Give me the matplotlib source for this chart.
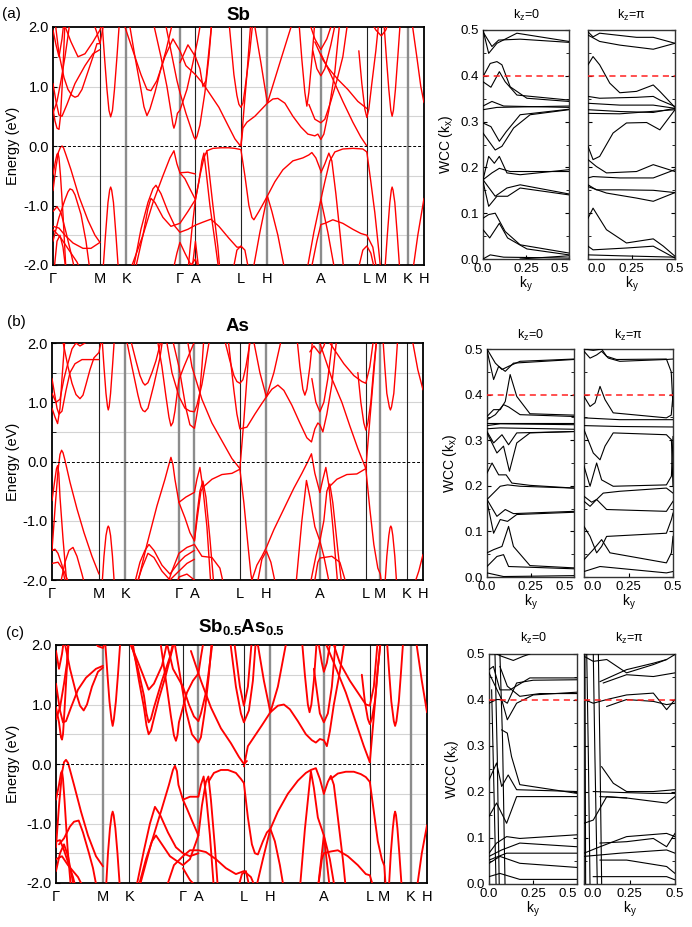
import matplotlib
matplotlib.use("Agg")
import matplotlib.pyplot as plt

plt.rcParams['font.family'] = ['Liberation Sans', 'DejaVu Sans']
plt.rcParams['mathtext.fontset'] = 'custom'
plt.rcParams['mathtext.rm'] = 'Liberation Sans'
plt.rcParams['mathtext.it'] = 'Liberation Sans:italic'
plt.rcParams['mathtext.bf'] = 'Liberation Sans:bold'

W, H = 692, 927

# high-symmetry path (k distance, arbitrary units)
KPTS = [0, 47, 73.5, 127, 142.5, 188, 214.5, 268, 314, 328.5, 355, 371.2]
KLABELS = ["Γ", "M", "K", "Γ", "A", "L", "H", "A", "L", "M", "K", "H"]
# colour of the inner vertical lines: k = black, g = grey
VLINES_SB = "kggkkggkkg"
VLINES_AS = "kgggkggkgk"
VLINES_SBAS = "gkkgkggkkg"

# ---- band structures: each band is a list of (k, E[eV]) ----
sb_bands = [
    [(0, 0.62), (2, 0.42), (4, 0.3), (6, 0.28), (7.5, 0.5), (9, 0.95), (10.5, 1.5), (12, 2.1)],
    [(0, 1.05), (3, 0.75), (6, 0.52), (9, 0.5), (14, 0.7), (22, 1.05), (32, 1.35), (40, 1.55), (47, 1.62)],
    [(0, 0.55), (4, 0.75), (8, 1.1), (12, 1.5), (15, 1.85), (17, 2.1)],
    [(2, 2.1), (6, 1.55), (11, 1.15), (15, 0.95), (19, 0.85), (22, 0.82), (25, 0.84), (29, 0.95), (34, 1.2),
     (40, 1.5), (44, 1.72), (47, 1.72)],
    [(10, 2.1), (18, 1.75), (25, 1.5), (32, 1.55), (40, 1.75), (47, 1.95), (50, 2.1)],
    [(0, 1.95), (3, 1.7), (6, 1.5), (9, 1.8), (11, 2.1)],
    [(0, -0.48), (2.5, -0.25), (4, -0.14), (5, -0.12), (6, -0.2), (7.5, -0.5), (10, -1.15), (13, -2.1)],
    [(0, -0.75), (3, -0.35), (5.5, -0.1), (7.5, -0.02), (9, 0.0), (10.5, -0.03), (13, -0.15), (18, -0.4),
     (26, -0.85), (35, -1.25), (42, -1.5), (47, -1.62)],
    [(0, -1.1), (4, -1.02), (8, -1.12), (13, -1.45), (18, -1.8), (22, -2.1)],
    [(0, -1.35), (6, -1.38), (12, -1.5), (20, -1.63), (30, -1.72), (38, -1.72), (47, -1.62)],
    [(0, -1.6), (6, -1.2), (12, -0.9), (15, -0.77), (17, -0.72), (19.5, -0.74), (22, -0.82), (28, -1.15),
     (33, -1.6), (37, -2.1)],
    [(0, -1.4), (8, -1.55), (16, -1.75), (24, -1.95), (28, -2.1)],
    [(1, -2.1), (4, -1.6), (7, -1.5), (10, -1.7), (13, -2.1)],
    [(49, 2.1), (51.5, 1.5), (54, 0.95), (56, 0.6), (57.7, 0.49), (59.5, 0.6), (61.5, 0.95), (64, 1.5), (66.5, 2.1)],
    [(50, -2.1), (52.5, -1.5), (55, -0.95), (56.7, -0.74), (57.7, -0.69), (58.7, -0.74), (60.5, -0.95),
     (63, -1.5), (65.5, -2.1)],
    [(40, 2.1), (44, 1.9), (47, 1.72), (49, 1.9), (51, 2.1)],
    [(76, 2.1), (82, 1.5), (88, 0.95), (91, 0.66), (94, 0.51), (97, 0.62), (102, 0.9), (108, 1.3), (113, 1.6), (120, 2.1)],
    [(70, 2.1), (80, 1.6), (88, 1.2), (94, 0.95), (98, 0.93), (104, 1.1), (112, 1.5), (120, 1.8), (127, 1.6),
     (133, 1.35), (142.5, 1.2)],
    [(100, 2.1), (108, 1.5), (114, 1.0), (118, 0.58), (120, 0.36), (121, 0.3), (122.5, 0.38), (124.5, 0.55),
     (127, 0.6), (134, 0.95), (140, 1.4), (145, 1.8), (148, 2.1)],
    [(112, 2.1), (118, 1.6), (124, 1.1), (127, 0.9), (133, 0.55), (138, 0.3), (141, 0.15), (142.5, 0.11),
     (144, 0.16), (147, 0.35), (152, 0.9), (156, 1.5), (159, 2.1)],
    [(127, 1.4), (135, 1.7), (142.5, 1.5), (147, 1.3), (150, 1.0), (153, 1.1), (156, 1.6), (159, 2.1)],
    [(142.5, 1.2), (150, 1.05), (158, 0.85), (166, 0.65), (175, 0.35), (182, 0.12), (188, -0.01)],
    [(176, 2.1), (181, 1.2), (184, 0.85), (186, 0.7), (188, 0.65), (190, 0.72), (192, 0.95), (197, 1.6), (200, 2.1)],
    [(188, -0.01), (190, 0.3), (194, 0.4), (202, 0.5), (214.5, 0.72), (220, 0.79), (225, 0.8), (232, 0.72),
     (240, 0.5), (248, 0.32), (255, 0.2), (262, 0.17), (265, 0.2), (268, 0.11), (271, 0.2), (276, 0.6),
     (282, 1.25), (287, 2.1)],
    [(201, 2.1), (208, 1.4), (214.5, 0.72), (227, 1.4), (240, 2.1)],
    [(188, -0.01), (191, 0.6), (194, 1.2), (198, 2.1)],
    [(246, 2.1), (249, 1.45), (252, 0.9), (254, 0.67), (256, 0.9), (259, 1.45), (262, 2.1)],
    [(256, 2.1), (262, 1.8), (268, 1.62), (274, 1.8), (280, 2.1)],
    [(260, 1.6), (264, 1.3), (268, 1.18), (272, 1.3), (278, 1.7), (283, 2.1)],
    [(256, 0.7), (262, 0.45), (268, 0.39), (272, 0.45), (278, 0.75), (284, 1.1), (290, 1.5), (295, 2.1)],
    [(262, 1.75), (270, 1.45), (276, 1.3), (285, 1.12), (295, 0.95), (305, 0.75), (314, 0.63)],
    [(268, 1.55), (278, 1.2), (290, 0.75), (300, 0.4), (308, 0.15), (314, 0.0)],
    [(306, 1.6), (309, 1.05), (312, 0.62), (314, 0.48), (316, 0.62), (319, 1.05), (323, 1.6), (326, 2.1)],
    [(318, 2.1), (323, 1.95), (328.5, 1.85), (333, 1.95), (336, 2.1)],
    [(331, 2.1), (333.5, 1.5), (336, 0.95), (338, 0.6), (339.3, 0.5), (340.6, 0.6), (342.6, 0.95), (345, 1.5), (347.5, 2.1)],
    [(359, 2.1), (364, 1.5), (368, 1.0), (371.2, 0.73)],
    [(188, -0.06), (192, -0.5), (196, -1.0), (199, -1.2), (201, -1.24), (206, -1.1), (211, -0.95), (214.5, -0.84),
     (219, -1.1), (225, -1.5), (232, -2.1)],
    [(200, -2.1), (207, -1.45), (214.5, -0.84), (222, -0.6), (230, -0.4), (240, -0.25), (250, -0.2), (256, -0.15),
     (259, -0.11), (263, -0.2), (268, -0.42)],
    [(268, -0.45), (272, -0.3), (276, -0.12), (279, -0.25), (283, -0.8), (288, -1.6), (291, -2.1)],
    [(268, -0.9), (272, -0.6), (277, -0.25), (282, -0.1), (290, -0.05), (300, -0.04), (310, -0.05), (314, -0.1)],
    [(314, -0.1), (318, -0.6), (322, -1.12), (325, -1.6), (328, -2.1)],
    [(332, -2.1), (334.5, -1.5), (337, -0.95), (338.5, -0.74), (339.3, -0.69), (340.2, -0.74), (342, -0.95),
     (344.5, -1.5), (347, -2.1)],
    [(360, -2.1), (365, -1.5), (371.2, -0.88)],
    [(254, -2.1), (261, -1.45), (268, -0.9), (275, -1.45), (282, -2.1)],
    [(258, -2.1), (264, -1.6), (268, -1.32), (272, -1.3), (280, -1.24), (290, -1.3), (300, -1.4), (308, -1.47),
     (314, -1.5), (320, -1.7), (324, -2.1)],
    [(305, -2.1), (310, -1.75), (314, -1.68), (318, -1.8), (322, -2.1)],
    [(77, -2.1), (90, -1.5), (100, -0.95), (110, -0.5), (117, -0.2), (121, -0.08), (124, -0.3), (127, -0.45),
     (135, -0.44), (142.5, -0.47)],
    [(127, -0.45), (132, -0.55), (137, -0.72), (142.5, -0.9), (146, -0.6), (149, -0.25), (151, -0.12), (153, -0.4),
     (157, -1.0), (162, -1.6), (166, -2.1)],
    [(135, -2.1), (139, -1.4), (142.5, -0.9), (147, -0.5), (151, -0.2), (154, -0.08), (156, -0.4), (160, -1.0),
     (165, -1.7), (167, -2.1)],
    [(154, -0.08), (160, -0.04), (168, -0.03), (176, -0.03), (182, -0.04), (188, -0.06)],
    [(80, -2.1), (88, -1.4), (95, -0.95), (100, -0.72), (103, -0.66), (108, -0.8), (115, -1.1), (122, -1.35),
     (127, -1.45), (135, -1.4), (142.5, -1.33)],
    [(82, -2.1), (90, -1.5), (95, -1.05), (98, -0.88), (102, -0.95), (110, -1.2), (118, -1.35), (127, -1.3),
     (135, -1.1), (142.5, -0.9)],
    [(142.5, -1.33), (150, -1.28), (158, -1.23), (166, -1.35), (176, -1.55), (184, -1.7), (188, -1.7)],
    [(120, -2.1), (124, -1.8), (127, -1.62), (132, -1.8), (138, -2.0), (142.5, -1.9), (146, -2.1)],
    [(180, -2.1), (184, -1.75), (188, -1.68), (192, -1.75), (196, -2.1)],
    [(139, -2.1), (142.5, -1.6), (146, -2.1)],
]

as_bands = [
    [(0, -0.66), (2.5, -0.35), (4.5, -0.12), (5.6, -0.07), (6.8, -0.2), (8, -0.6), (11, -1.3), (15, -2.1)],
    [(0, -1.5), (3, -0.8), (6, -0.15), (8, 0.12), (9.6, 0.19), (11, 0.15), (13, 0.02), (18, -0.35), (25, -0.8),
     (32, -1.2), (40, -1.6), (47, -1.9)],
    [(0, -1.5), (3, -1.48), (6, -1.55), (10, -1.75), (14, -2.1)],
    [(8, -2.1), (13, -1.7), (17, -1.5), (21, -1.45), (25, -1.6), (30, -1.9), (33, -2.1)],
    [(0, -1.72), (6, -1.7), (12, -1.85), (18, -2.1)],
    [(0, 0.9), (3, 0.75), (5.6, 0.64), (8, 0.9), (10, 1.4), (13, 2.1)],
    [(0, 1.4), (3, 1.1), (5, 0.9), (7, 0.8), (10, 0.85), (14, 1.2), (18, 1.5), (23, 1.65), (30, 1.72), (40, 1.72), (47, 1.72)],
    [(0, 1.15), (4, 1.0), (8, 1.05), (12, 1.4), (15, 1.6), (20, 1.9), (24, 2.0), (28, 1.95), (33, 2.0), (38, 2.1)],
    [(10, 2.1), (16, 1.6), (20, 1.32), (24, 1.13), (28, 1.06), (31, 1.12), (34, 1.3), (38, 1.55), (42, 1.75),
     (47, 1.84), (50, 2.1)],
    [(50, 2.1), (52, 1.6), (54, 1.15), (55.5, 0.93), (56.3, 0.87), (57.2, 0.93), (58.6, 1.15), (60.5, 1.6), (62.5, 2.1)],
    [(50, -2.1), (52, -1.6), (54, -1.25), (55.5, -1.12), (56.3, -1.09), (57.2, -1.12), (58.6, -1.25), (60.5, -1.6),
     (62.5, -2.1)],
    [(74, 2.1), (80, 1.6), (86, 1.12), (89, 0.92), (91, 0.86), (93, 0.84), (96, 0.9), (102, 1.3), (108, 1.75), (111, 2.1)],
    [(78, 2.1), (84, 1.7), (88, 1.45), (91, 1.33), (93, 1.29), (96, 1.33), (100, 1.5), (104, 1.7), (110, 2.1)],
    [(105, 2.1), (110, 1.6), (114, 1.1), (117, 0.75), (119, 0.6), (121, 0.66), (123, 0.85), (127, 1.38),
     (132, 1.6), (137, 1.8), (142, 2.0)],
    [(114, 2.1), (120, 1.5), (127, 1.1), (133, 0.9), (138, 0.85), (142.5, 0.84), (145, 0.95), (150, 1.3), (155, 1.8), (158, 2.1)],
    [(120, 2.1), (127, 1.6), (134, 0.9), (138, 0.62), (142.5, 0.56), (144, 0.7), (147, 1.0), (150, 1.6), (152, 2.1)],
    [(135, 2.1), (140, 1.6), (150, 1.05), (160, 0.65), (170, 0.35), (180, 0.05), (188, -0.12)],
    [(172, 2.1), (178, 1.7), (182, 1.45), (185, 1.35), (188, 1.32), (191, 1.38), (194, 1.6), (199, 2.1)],
    [(176, 2.1), (182, 1.2), (185, 0.8), (188, 0.55), (195, 0.58), (203, 0.8), (210, 0.98), (214.5, 1.09),
     (220, 1.22), (226, 1.29), (232, 1.2), (240, 0.95), (248, 0.65), (255, 0.4), (259.6, 0.33), (263, 0.55),
     (266, 0.65), (268, 0.62), (271, 0.5), (275, 0.8), (280, 1.3), (285, 2.1)],
    [(188, -0.12), (192, 0.7), (195, 1.4), (198, 2.1)],
    [(201, 2.1), (208, 1.5), (214.5, 1.09), (222, 1.5), (230, 2.1)],
    [(245, 2.1), (248, 1.6), (251, 1.22), (253, 1.12), (255, 1.22), (258, 1.6), (261, 2.1)],
    [(260, 1.4), (264, 1.0), (268, 0.84), (272, 1.0), (276, 1.4), (281, 2.1)],
    [(266, 2.1), (272, 1.8), (280, 1.4), (290, 1.0), (298, 0.6), (306, 0.22), (314, -0.12)],
    [(274, 2.1), (282, 1.9), (292, 1.65), (302, 1.45), (310, 1.35), (314, 1.32), (318, 1.6), (322, 2.1)],
    [(306, 1.5), (309, 1.0), (312, 0.65), (314, 0.53), (316, 0.65), (319, 1.0), (322, 1.6), (325, 2.1)],
    [(314, -0.12), (318, 0.7), (322, 1.5), (325, 2.1)],
    [(331, 2.1), (333, 1.6), (335, 1.15), (337.5, 0.92), (338.6, 0.87), (339.7, 0.92), (342, 1.15), (344, 1.6), (346, 2.1)],
    [(360, 2.1), (366, 1.55), (371.2, 1.21)],
    [(258, 1.85), (262, 1.95), (268, 1.82), (272, 1.95), (275, 2.1)],
    [(85, -2.1), (95, -1.4), (105, -0.75), (113, -0.3), (117, -0.05), (119, 0.07), (121, -0.05), (123, -0.3),
     (127, -0.69), (134, -0.6), (142.5, -0.52), (145, -0.3), (148, -0.1), (151, -0.45), (155, -1.1), (159, -2.1)],
    [(127, -0.69), (133, -0.95), (138, -1.2), (142.5, -1.34), (145, -0.9), (148, -0.5), (151, -0.33), (154, -0.6),
     (158, -1.3), (162, -2.1)],
    [(142.5, -1.34), (145, -1.0), (149, -0.5), (152, -0.42), (160, -0.3), (170, -0.22), (180, -0.2), (188, -0.13)],
    [(188, -0.13), (192, -0.7), (196, -1.4), (199, -1.9), (201, -2.1)],
    [(198, -2.1), (205, -1.75), (210, -1.6), (214.5, -1.45), (222, -1.15), (232, -0.8), (242, -0.45), (250, -0.2),
     (256, 0.0), (259.6, 0.13), (263, -0.2), (268, -0.52)],
    [(205, -2.1), (210, -1.65), (214.5, -1.51), (219, -1.7), (224, -2.1)],
    [(244, -2.1), (250, -1.0), (254.6, -0.32), (258, -0.6), (263, -1.1), (268, -1.34), (272, -1.0), (275, -0.5),
     (278, -0.38), (281, -0.7), (286, -1.5), (290, -2.1)],
    [(268, -0.52), (271, -0.3), (274, -0.1), (277, -0.4), (281, -1.1), (286, -2.1)],
    [(276, -0.45), (285, -0.3), (295, -0.22), (305, -0.21), (314, -0.12)],
    [(314, -0.12), (318, -0.8), (322, -1.4), (326, -1.8), (328.5, -1.9), (330, -2.1)],
    [(333, -2.1), (335, -1.6), (337, -1.25), (338.2, -1.12), (339, -1.09), (339.8, -1.12), (341, -1.25),
     (343, -1.6), (345, -2.1)],
    [(362, -2.1), (367, -1.85), (371.2, -1.57)],
    [(258, -2.1), (264, -1.6), (268, -1.34), (272, -1.6), (278, -2.1)],
    [(262, -2.1), (266, -1.7), (268, -1.63), (272, -1.62), (280, -1.6), (288, -1.7), (295, -2.1)],
    [(82, -2.1), (88, -1.7), (93, -1.5), (97, -1.4), (102, -1.5), (110, -1.75), (118, -1.9), (127, -1.7),
     (133, -1.6), (142.5, -1.5)],
    [(84, -2.1), (90, -1.8), (96, -1.55), (102, -1.62), (110, -1.85), (118, -2.0), (127, -1.85), (135, -1.72),
     (142.5, -1.65)],
    [(115, -2.1), (120, -1.85), (127, -1.55), (135, -1.45), (142.5, -1.4), (150, -1.6), (160, -1.62), (168, -1.8),
     (172, -2.1)],
    [(124, -2.1), (127, -1.95), (135, -1.9), (142.5, -2.0), (146, -2.1)],
]

sbas_bands = [
    [(0, -0.6), (3, -0.35), (5, -0.15), (6, -0.12), (7, -0.25), (8.5, -0.6), (11.5, -1.4), (15, -2.1)],
    [(0, -1.4), (3, -0.7), (6, -0.15), (8, 0.03), (10, 0.07), (12, 0.02), (14, -0.1), (18, -0.35), (25, -0.8),
     (32, -1.2), (40, -1.55), (47, -1.72)],
    [(3, -1.35), (8, -1.25), (14, -1.05), (18, -0.97), (22.7, -0.95), (27, -1.15), (33, -1.5), (37, -1.75), (41, -2.1)],
    [(0, -1.3), (4, -1.28), (8, -1.45), (13, -1.7), (17, -1.9), (20, -2.1)],
    [(0, -1.6), (6, -1.55), (12, -1.7), (22, -1.9), (28, -2.1)],
    [(0, -1.8), (4, -1.5), (8, -1.35), (12, -1.55), (16, -1.9), (18, -2.1)],
    [(0, 0.95), (3, 0.7), (5, 0.45), (6, 0.41), (7, 0.5), (8.5, 0.9), (10.5, 1.5), (12.5, 2.1)],
    [(0, 1.35), (4, 0.9), (7, 0.7), (10, 0.72), (15, 0.95), (22, 1.25), (30, 1.45), (40, 1.6), (47, 1.65)],
    [(0, 0.75), (4, 0.95), (8, 1.35), (11, 1.7), (13, 2.1)],
    [(8, 2.1), (14, 1.6), (20, 1.2), (24, 0.98), (27.7, 0.9), (31, 1.0), (36, 1.3), (42, 1.55), (47, 1.62)],
    [(0, 1.9), (3, 1.6), (6, 1.85), (8, 2.1)],
    [(36, 2.1), (42, 1.98), (47, 1.95), (50, 2.1)],
    [(49, 2.1), (51.5, 1.5), (53.5, 1.05), (55.5, 0.75), (56.7, 0.64), (57.9, 0.75), (59.9, 1.05), (62, 1.5), (64.5, 2.1)],
    [(50, -2.1), (52, -1.5), (54, -1.08), (55.7, -0.86), (56.7, -0.8), (57.7, -0.86), (59.4, -1.08), (61.5, -1.5), (64, -2.1)],
    [(76, 2.1), (83, 1.4), (88, 0.95), (90.5, 0.65), (92.7, 0.5), (95, 0.56), (97, 0.7), (103, 1.1), (110, 1.5),
     (116, 1.9), (119, 2.1)],
    [(74, 2.1), (82, 1.6), (88, 1.15), (90.5, 0.85), (92.7, 0.7), (95, 0.76), (98, 0.95), (106, 1.4), (114, 1.8), (118, 2.1)],
    [(72, 2.1), (80, 1.8), (87, 1.5), (92.7, 1.25), (98, 1.35), (106, 1.65), (112, 2.1)],
    [(104, 2.1), (110, 1.4), (115, 0.8), (118, 0.48), (120, 0.39), (121.5, 0.48), (123, 0.7), (127, 0.95),
     (131, 1.2), (137, 1.4), (142.5, 1.52), (145, 1.8), (148, 2.1)],
    [(110, 2.1), (117, 1.6), (127, 1.3), (133, 1.0), (138, 0.8), (142.5, 0.72), (145, 0.85), (150, 1.2), (154, 1.7), (157, 2.1)],
    [(118, 2.1), (124, 1.5), (130, 0.9), (136, 0.5), (142.5, 0.36), (145, 0.45), (149, 0.9), (153, 1.5), (156, 2.1)],
    [(135, 1.9), (145, 1.4), (155, 0.95), (165, 0.6), (175, 0.35), (183, 0.12), (188, 0.0), (191, 0.05)],
    [(174, 2.1), (180, 1.3), (185, 0.85), (188, 0.7), (193, 0.9), (197, 1.4), (200, 2.1)],
    [(178, 2.1), (184, 1.3), (188, 0.98), (192, 1.3), (196, 2.1)],
    [(188, -0.04), (192, 0.3), (198, 0.45), (206, 0.65), (214.5, 0.87), (222, 0.98), (228, 1.0), (234, 0.92),
     (242, 0.72), (250, 0.5), (256, 0.4), (260, 0.36), (264, 0.42), (268, 0.4), (271, 0.3), (274, 0.55),
     (278, 1.0), (284, 1.55), (289, 2.1)],
    [(201, 2.1), (208, 1.4), (214.5, 0.87), (222, 1.3), (231, 2.1)],
    [(246, 2.1), (249, 1.5), (252, 1.0), (253.7, 0.87), (255.5, 1.0), (258, 1.4), (261, 2.1)],
    [(258, 1.6), (264, 0.85), (268, 0.7), (272, 0.85), (276, 1.3), (280, 2.1)],
    [(262, 2.1), (266, 1.7), (268, 1.55), (271, 1.7), (275, 2.1)],
    [(268, 2.1), (278, 1.7), (290, 1.2), (300, 0.7), (308, 0.3), (314, 0.03)],
    [(276, 2.1), (284, 1.7), (294, 1.4), (304, 1.15), (310, 1.0), (314, 0.98), (318, 1.3), (322, 2.1)],
    [(306, 1.5), (309, 1.05), (312, 0.76), (314, 0.67), (316, 0.76), (319, 1.05), (322, 1.6), (325, 2.1)],
    [(314, 0.03), (318, 0.8), (322, 1.6), (325, 2.1)],
    [(331, 2.1), (333.5, 1.5), (335.5, 1.05), (338, 0.72), (339.3, 0.64), (340.6, 0.72), (343, 1.05), (345, 1.5), (347.5, 2.1)],
    [(360, 2.1), (366, 1.4), (371.2, 0.87)],
    [(83, -2.1), (95, -1.35), (105, -0.8), (113, -0.35), (117, -0.1), (119, -0.03), (121, -0.12), (122.5, -0.35),
     (127, -0.6), (134, -0.55), (142.5, -0.55), (145, -0.35), (147.7, -0.21), (150, -0.5), (154, -1.2), (158, -2.1)],
    [(127, -0.6), (131, -0.75), (136, -0.95), (142.5, -1.2), (146, -0.7), (150, -0.3), (152.5, -0.21), (155, -0.6),
     (159, -1.4), (162, -2.1)],
    [(152.5, -0.3), (158, -0.15), (165, -0.1), (172, -0.1), (180, -0.15), (185, -0.25), (188, -0.32)],
    [(188, -0.32), (192, -0.9), (196, -1.35), (199, -1.5), (202, -1.52), (207, -1.3), (211, -1.15), (214.5, -1.09),
     (219, -1.3), (224, -1.7), (228, -2.1)],
    [(200, -2.1), (207, -1.6), (214.5, -1.09), (222, -0.8), (232, -0.5), (242, -0.28), (250, -0.15), (255, -0.1),
     (260, -0.07), (264, -0.25), (268, -0.5)],
    [(244, -2.1), (249, -1.1), (255, -0.12), (258, -0.4), (262, -0.9), (268, -1.2), (274, -1.6), (279, -2.1)],
    [(268, -0.5), (272, -0.3), (275, -0.2), (278, -0.35), (282, -0.9), (287, -1.6), (290, -2.1)],
    [(275, -0.25), (282, -0.16), (290, -0.13), (298, -0.13), (305, -0.17), (310, -0.22), (314, -0.3)],
    [(314, -0.3), (318, -0.8), (322, -1.3), (326, -1.6), (328.5, -1.71), (330, -2.1)],
    [(333, -2.1), (335, -1.5), (337, -1.08), (338.4, -0.86), (339.3, -0.8), (340.2, -0.86), (341.6, -1.08),
     (343.5, -1.5), (346, -2.1)],
    [(361, -2.1), (366, -1.5), (371.2, -1.03)],
    [(262, -2.1), (265, -1.65), (268, -1.2), (271, -1.65), (274, -2.1)],
    [(262, -2.1), (266, -1.6), (268, -1.5), (275, -1.47), (282, -1.45), (292, -1.55), (302, -1.7), (310, -1.85),
     (314, -1.87), (318, -2.1)],
    [(80, -2.1), (88, -1.45), (94, -1.0), (99, -0.72), (104, -0.85), (112, -1.15), (120, -1.4), (127, -1.5),
     (134, -1.55), (142.5, -1.5)],
    [(82, -2.1), (90, -1.6), (96, -1.3), (100, -1.2), (106, -1.35), (114, -1.55), (120, -1.62), (127, -1.7),
     (134, -1.6), (142.5, -1.2)],
    [(110, -2.1), (118, -1.7), (127, -1.55), (134, -1.45), (142.5, -1.45), (150, -1.48), (160, -1.6), (170, -1.75),
     (180, -1.85), (188, -1.8), (195, -1.9), (200, -2.1)],
    [(127, -1.75), (134, -1.95), (142.5, -2.1)],
    [(182, -2.1), (186, -1.85), (190, -1.8), (194, -2.1)],
]

# ---- Wannier charge centres: each line is a list of (k_y, WCC) ----
sb_wcc_0 = [
    [(0, 0.5), (0.033, 0.449), (0.081, 0.471), (0.197, 0.493), (0.5, 0.475)],
    [(0, 0.496), (0.052, 0.464), (0.091, 0.478), (0.216, 0.48), (0.5, 0.473)],
    [(0, 0.398), (0.042, 0.427), (0.081, 0.431), (0.11, 0.424), (0.158, 0.376), (0.255, 0.351), (0.5, 0.344)],
    [(0, 0.387), (0.046, 0.375), (0.095, 0.409), (0.129, 0.387), (0.197, 0.358), (0.5, 0.347)],
    [(0, 0.334), (0.052, 0.344), (0.12, 0.334), (0.5, 0.331)],
    [(0, 0.326), (0.081, 0.331), (0.5, 0.334)],
    [(0, 0.297), (0.046, 0.289), (0.095, 0.257), (0.135, 0.278), (0.216, 0.315), (0.5, 0.327)],
    [(0, 0.275), (0.071, 0.238), (0.11, 0.246), (0.178, 0.286), (0.274, 0.315), (0.5, 0.326)],
    [(0, 0.173), (0.033, 0.224), (0.066, 0.209), (0.095, 0.224), (0.139, 0.188), (0.216, 0.184), (0.5, 0.195)],
    [(0, 0.173), (0.052, 0.188), (0.095, 0.198), (0.158, 0.191), (0.5, 0.191)],
    [(0, 0.173), (0.071, 0.137), (0.139, 0.155), (0.216, 0.162), (0.5, 0.142)],
    [(0, 0.169), (0.033, 0.115), (0.081, 0.137), (0.143, 0.137), (0.216, 0.155), (0.5, 0.14)],
    [(0, 0.064), (0.039, 0.046), (0.095, 0.078), (0.143, 0.046), (0.255, 0.022), (0.5, 0.009)],
    [(0, 0.089), (0.033, 0.097), (0.071, 0.1), (0.129, 0.06), (0.216, 0.031), (0.5, 0.013)],
    [(0, 0.0), (0.042, 0.009), (0.12, 0.004), (0.5, 0.002)],
    [(0.216, 0.0), (0.5, 0.007)],
]
sb_wcc_pi = [
    [(0, 0.496), (0.029, 0.485), (0.067, 0.493), (0.279, 0.484), (0.375, 0.484), (0.5, 0.471)],
    [(0, 0.489), (0.067, 0.475), (0.183, 0.467), (0.375, 0.458), (0.5, 0.471)],
    [(0, 0.424), (0.029, 0.442), (0.067, 0.424), (0.125, 0.384), (0.183, 0.363), (0.279, 0.366), (0.375, 0.38),
     (0.413, 0.366), (0.5, 0.331)],
    [(0, 0.355), (0.067, 0.351), (0.279, 0.353), (0.375, 0.355), (0.413, 0.347), (0.5, 0.333)],
    [(0, 0.34), (0.183, 0.336), (0.375, 0.336), (0.5, 0.329)],
    [(0, 0.326), (0.183, 0.322), (0.375, 0.32), (0.5, 0.329)],
    [(0, 0.318), (0.183, 0.317), (0.5, 0.326)],
    [(0, 0.246), (0.029, 0.217), (0.067, 0.224), (0.144, 0.275), (0.221, 0.297), (0.337, 0.298), (0.413, 0.282), (0.5, 0.326)],
    [(0, 0.217), (0.048, 0.202), (0.106, 0.188), (0.279, 0.191), (0.375, 0.206), (0.5, 0.191)],
    [(0, 0.177), (0.029, 0.18), (0.183, 0.177), (0.375, 0.177), (0.5, 0.195)],
    [(0, 0.162), (0.048, 0.151), (0.183, 0.151), (0.375, 0.15), (0.5, 0.145)],
    [(0, 0.158), (0.106, 0.144), (0.279, 0.133), (0.375, 0.126), (0.5, 0.145)],
    [(0, 0.089), (0.029, 0.111), (0.106, 0.064), (0.221, 0.035), (0.375, 0.044), (0.433, 0.028), (0.5, 0.006)],
    [(0, 0.028), (0.029, 0.02), (0.221, 0.024), (0.375, 0.028), (0.5, 0.002)],
    [(0, 0.009), (0.183, 0.007), (0.5, 0.004)],
]
as_wcc_0 = [
    [(0, 0.5), (0.048, 0.469), (0.086, 0.455), (0.124, 0.462), (0.19, 0.473), (0.5, 0.478)],
    [(0, 0.497), (0.038, 0.433), (0.067, 0.462), (0.105, 0.451), (0.152, 0.469), (0.5, 0.477)],
    [(0, 0.352), (0.038, 0.367), (0.076, 0.367), (0.105, 0.385), (0.133, 0.444), (0.171, 0.396), (0.247, 0.358), (0.5, 0.355)],
    [(0, 0.345), (0.048, 0.356), (0.095, 0.378), (0.124, 0.373), (0.19, 0.356), (0.5, 0.352)],
    [(0, 0.338), (0.5, 0.338)],
    [(0, 0.332), (0.076, 0.336), (0.5, 0.334)],
    [(0, 0.325), (0.076, 0.327), (0.5, 0.324)],
    [(0, 0.319), (0.038, 0.294), (0.086, 0.312), (0.124, 0.29), (0.171, 0.316), (0.5, 0.319)],
    [(0, 0.316), (0.057, 0.272), (0.095, 0.287), (0.129, 0.232), (0.171, 0.294), (0.247, 0.316), (0.5, 0.319)],
    [(0, 0.228), (0.029, 0.25), (0.067, 0.224), (0.11, 0.224), (0.143, 0.206), (0.247, 0.201), (0.5, 0.195)],
    [(0, 0.17), (0.076, 0.199), (0.118, 0.202), (0.19, 0.199), (0.5, 0.195)],
    [(0, 0.17), (0.057, 0.133), (0.105, 0.148), (0.152, 0.139), (0.5, 0.144)],
    [(0, 0.166), (0.038, 0.096), (0.076, 0.126), (0.118, 0.122), (0.171, 0.137), (0.5, 0.142)],
    [(0, 0.053), (0.038, 0.06), (0.086, 0.067), (0.124, 0.111), (0.152, 0.067), (0.247, 0.025), (0.5, 0.02)],
    [(0, 0.023), (0.057, 0.045), (0.095, 0.049), (0.124, 0.023), (0.5, 0.018)],
    [(0, 0.009), (0.095, 0.001), (0.5, 0.003)],
]
as_wcc_pi = [
    [(0, 0.5), (0.052, 0.497), (0.099, 0.5), (0.127, 0.484), (0.183, 0.477), (0.463, 0.478), (0.49, 0.45), (0.5, 0.374)],
    [(0, 0.495), (0.034, 0.48), (0.071, 0.487), (0.099, 0.495), (0.137, 0.48), (0.201, 0.473), (0.463, 0.477), (0.5, 0.478)],
    [(0, 0.396), (0.034, 0.374), (0.062, 0.382), (0.09, 0.418), (0.118, 0.389), (0.164, 0.36), (0.463, 0.349),
     (0.49, 0.355), (0.5, 0.4)],
    [(0, 0.349), (0.201, 0.345), (0.463, 0.345), (0.5, 0.345)],
    [(0, 0.332), (0.201, 0.33), (0.5, 0.329)],
    [(0, 0.323), (0.052, 0.272), (0.09, 0.257), (0.118, 0.287), (0.164, 0.316), (0.463, 0.312), (0.491, 0.301), (0.5, 0.199)],
    [(0, 0.243), (0.034, 0.199), (0.071, 0.25), (0.099, 0.213), (0.164, 0.199), (0.463, 0.202), (0.491, 0.221), (0.5, 0.308)],
    [(0, 0.166), (0.034, 0.155), (0.071, 0.17), (0.127, 0.148), (0.463, 0.144), (0.5, 0.166)],
    [(0, 0.177), (0.043, 0.164), (0.071, 0.17), (0.108, 0.184), (0.201, 0.188), (0.463, 0.195), (0.5, 0.184)],
    [(0, 0.111), (0.034, 0.089), (0.071, 0.053), (0.099, 0.067), (0.127, 0.089), (0.463, 0.096), (0.491, 0.126), (0.5, 0.14)],
    [(0, 0.038), (0.052, 0.06), (0.099, 0.082), (0.146, 0.053), (0.463, 0.031), (0.491, 0.053), (0.5, 0.089)],
    [(0, 0.012), (0.09, 0.023), (0.463, 0.009), (0.5, 0.012)],
]
sbas_wcc_0 = [
    [(0, 0.466), (0.025, 0.473), (0.062, 0.422), (0.119, 0.422), (0.232, 0.448), (0.5, 0.448)],
    [(0, 0.459), (0.072, 0.401), (0.104, 0.393), (0.157, 0.437), (0.251, 0.443), (0.5, 0.444)],
    [(0, 0.393), (0.043, 0.401), (0.072, 0.401), (0.104, 0.357), (0.157, 0.393), (0.251, 0.411), (0.5, 0.417)],
    [(0.062, 0.473), (0.104, 0.43), (0.175, 0.408), (0.289, 0.414), (0.5, 0.414)],
    [(0.043, 0.5), (0.072, 0.495), (0.138, 0.486), (0.194, 0.495), (0.232, 0.5)],
    [(0, 0.226), (0.043, 0.263), (0.072, 0.212), (0.109, 0.237), (0.157, 0.205), (0.5, 0.201)],
    [(0, 0.147), (0.043, 0.176), (0.1, 0.132), (0.157, 0.19), (0.5, 0.19)],
    [(0.072, 0.335), (0.104, 0.328), (0.128, 0.277), (0.175, 0.216), (0.5, 0.197)],
    [(0, 0.067), (0.043, 0.089), (0.1, 0.103), (0.175, 0.099), (0.5, 0.107)],
    [(0, 0.06), (0.072, 0.074), (0.175, 0.089), (0.5, 0.081)],
    [(0, 0.045), (0.062, 0.06), (0.175, 0.045), (0.5, 0.036)],
    [(0, 0.052), (0.1, 0.067), (0.5, 0.067)],
    [(0, 0.016), (0.062, 0.023), (0.175, 0.01), (0.5, 0.01)],
    [(0.034, 0.5), (0.047, 0.277), (0.058, 0.0)],
    [(0.062, 0.5), (0.077, 0.313), (0.091, 0.0)],
    [(0.015, 0.422), (0.028, 0.205), (0.04, 0.0)],
]
sbas_wcc_pi = [
    [(0, 0.495), (0.051, 0.484), (0.125, 0.488), (0.234, 0.459), (0.381, 0.477), (0.454, 0.488), (0.5, 0.499)],
    [(0.088, 0.44), (0.234, 0.466), (0.381, 0.48), (0.454, 0.488)],
    [(0.106, 0.437), (0.234, 0.455), (0.381, 0.451), (0.5, 0.459)],
    [(0, 0.401), (0.051, 0.393), (0.125, 0.401), (0.234, 0.411), (0.381, 0.415), (0.454, 0.379), (0.5, 0.401)],
    [(0.125, 0.386), (0.234, 0.401), (0.381, 0.397), (0.454, 0.39), (0.5, 0.393)],
    [(0.097, 0.255), (0.161, 0.219), (0.234, 0.201), (0.381, 0.201), (0.5, 0.205)],
    [(0.051, 0.201), (0.198, 0.199), (0.381, 0.197), (0.5, 0.197)],
    [(0.088, 0.19), (0.234, 0.187), (0.454, 0.176), (0.5, 0.19)],
    [(0, 0.132), (0.051, 0.139), (0.125, 0.19), (0.234, 0.187)],
    [(0, 0.067), (0.088, 0.081), (0.234, 0.103), (0.454, 0.11), (0.5, 0.103)],
    [(0.088, 0.089), (0.234, 0.092), (0.381, 0.099), (0.454, 0.081), (0.5, 0.11)],
    [(0, 0.06), (0.198, 0.067), (0.454, 0.074), (0.5, 0.067)],
    [(0.088, 0.052), (0.234, 0.052), (0.454, 0.038), (0.5, 0.023)],
    [(0.051, 0.016), (0.234, 0.016), (0.454, 0.016), (0.5, 0.009)],
    [(0.015, 0.5), (0.024, 0.277), (0.033, 0.0)],
    [(0.051, 0.5), (0.06, 0.277), (0.073, 0.0)],
    [(0.079, 0.5), (0.088, 0.277), (0.097, 0.0)],
    [(0.005, 0.5), (0.009, 0.0)],
]


def px_axes(fig, left, top, right, bottom):
    return fig.add_axes([left / W, 1 - bottom / H, (right - left) / W, (bottom - top) / H])


def draw_bands(ax, bands, vline_cols, lw):
    for b in bands:
        ax.plot([p[0] for p in b], [p[1] for p in b], color="#ff0000", lw=lw, zorder=3,
                solid_joinstyle="round", solid_capstyle="round")
    for y in [-1.5, -1.0, -0.5, 0.5, 1.0, 1.5]:
        ax.axhline(y, color="#d4d4d4", lw=0.8, zorder=0)
    ax.axhline(0, color="k", lw=0.7, ls=(0, (3, 2)), zorder=4)
    for x, c in zip(KPTS[1:-1], vline_cols):
        if c == "k":
            ax.axvline(x, color="#222222", lw=0.8, zorder=2)
        else:
            ax.axvline(x, color="#8c8c8c", lw=1.7, zorder=2)
    ax.set_xlim(KPTS[0], KPTS[-1])
    ax.set_ylim(-2, 2)
    ax.set_xticks(KPTS)
    ax.set_xticklabels(KLABELS, fontsize=10.5)
    ax.set_yticks([-2, -1, 0, 1, 2])
    ax.set_yticklabels(["-2.0", "-1.0", "0.0", "1.0", "2.0"], fontsize=10.5)
    ax.set_yticks([-1.5, -0.5, 0.5, 1.5], minor=True)
    ax.tick_params(axis="x", length=0, pad=5)
    ax.tick_params(axis="y", which="both", direction="in", length=3, pad=3)
    for s in ax.spines.values():
        s.set_linewidth(1.3)


def draw_wcc(ax, lines, left_panel):
    for ln in lines:
        ax.plot([p[0] for p in ln], [p[1] for p in ln], color="k", lw=0.8, zorder=3)
    ax.axhline(0.4, color="#ff2020", lw=1.1, ls=(0, (4, 3)), zorder=4)
    ax.set_xlim(0, 0.5)
    ax.set_ylim(0, 0.5)
    ax.set_xticks([0, 0.25, 0.5])
    ax.set_xticklabels(["0.0", "0.25", "0.5"], fontsize=9.5)
    xl = ax.get_xticklabels()
    if left_panel:
        xl[-1].set_horizontalalignment("right")
    else:
        xl[0].set_horizontalalignment("left")
    ax.set_yticks([0, 0.1, 0.2, 0.3, 0.4, 0.5])
    ax.set_yticks([0.05, 0.15, 0.25, 0.35, 0.45], minor=True)
    if left_panel:
        ax.set_yticklabels(["0.0", "0.1", "0.2", "0.3", "0.4", "0.5"], fontsize=9.5)
    else:
        ax.set_yticklabels([])
    ax.tick_params(which="both", direction="in", length=3, right=True, pad=3)
    ax.tick_params(which="minor", length=2)
    ax.set_xlabel(r"k$_\mathregular{y}$", fontsize=10, labelpad=0)
    for s in ax.spines.values():
        s.set_linewidth(1.0)
        s.set_color("#333333")


fig = plt.figure(figsize=(W / 100, H / 100), dpi=100)

panels = [
    dict(tag="(a)", title="Sb", bands=sb_bands, vcols=VLINES_SB, lw=1.0,
         band_box=(53, 27, 424, 265), tag_xy=(2, 14), title_y=15,
         w0_box=(483, 30, 569, 259), wpi_box=(588, 30, 675, 259), w0=sb_wcc_0, wpi=sb_wcc_pi, kz_y=15),
    dict(tag="(b)", title="As", bands=as_bands, vcols=VLINES_AS, lw=1.0,
         band_box=(52, 343, 423, 580), tag_xy=(7, 322), title_y=327,
         w0_box=(487, 349, 574, 577), wpi_box=(584, 349, 673, 577), w0=as_wcc_0, wpi=as_wcc_pi, kz_y=335),
    dict(tag="(c)", title=r"$\mathbf{Sb_{0.5}As_{0.5}}$", bands=sbas_bands, vcols=VLINES_SBAS, lw=1.35,
         band_box=(56, 645, 427, 883), tag_xy=(6, 633), title_y=627,
         w0_box=(489, 654, 577, 884), wpi_box=(584, 654, 675, 884), w0=sbas_wcc_0, wpi=sbas_wcc_pi, kz_y=638),
]

for p in panels:
    l, t, r, b = p["band_box"]
    ax = px_axes(fig, l, t, r, b)
    draw_bands(ax, p["bands"], p["vcols"], p["lw"])
    fig.text(13 / W, 1 - ((t + b) / 2) / H, "Energy (eV)", rotation=90, fontsize=10.5, ha="center", va="center")
    fig.text(((l + r) / 2) / W, 1 - p["title_y"] / H, p["title"], fontsize=13.5, fontweight="bold",
             ha="center", va="center")
    fig.text(p["tag_xy"][0] / W, 1 - p["tag_xy"][1] / H, p["tag"], fontsize=11, ha="left", va="center")

    l0, t0, r0, b0 = p["w0_box"]
    ax0 = px_axes(fig, l0, t0, r0, b0)
    draw_wcc(ax0, p["w0"], True)
    ax0.set_ylabel(r"WCC (k$_\mathregular{x}$)", fontsize=10, labelpad=4)
    fig.text(((l0 + r0) / 2) / W, 1 - p["kz_y"] / H, r"k$_\mathregular{z}$=0", fontsize=9, ha="center", va="center")

    l1, t1, r1, b1 = p["wpi_box"]
    ax1 = px_axes(fig, l1, t1, r1, b1)
    draw_wcc(ax1, p["wpi"], False)
    fig.text(((l1 + r1) / 2) / W, 1 - p["kz_y"] / H, r"k$_\mathregular{z}$=π", fontsize=9, ha="center", va="center")

fig.savefig("out.png", dpi=100)
